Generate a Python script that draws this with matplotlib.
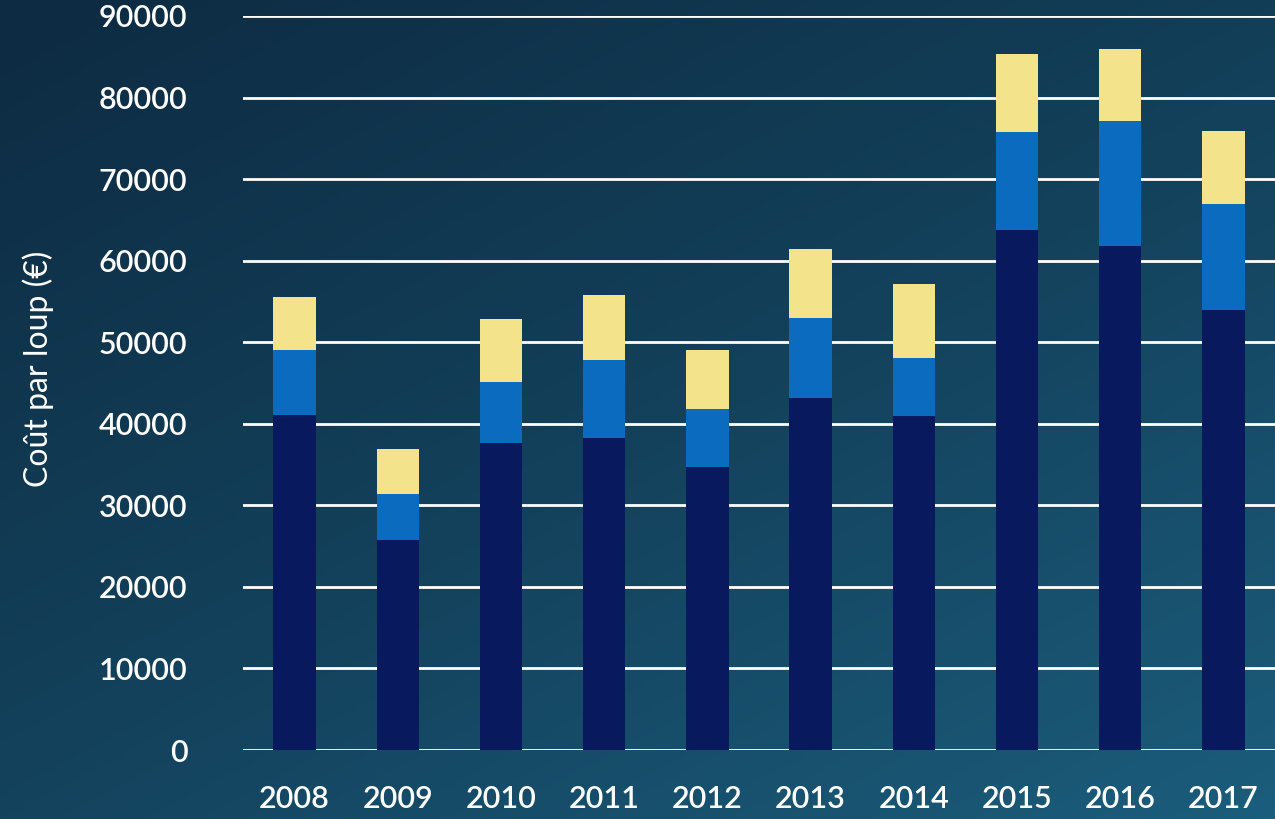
import numpy as np
import matplotlib
matplotlib.use("Agg")
import matplotlib.pyplot as plt
from matplotlib.colors import LinearSegmentedColormap

years = ["2008", "2009", "2010", "2011", "2012", "2013", "2014", "2015", "2016", "2017"]
part_navy = [41100, 25800, 37600, 38300, 34700, 43200, 41000, 63700, 61800, 53900]
part_blue = [7900, 5600, 7500, 9500, 7100, 9800, 7100, 12100, 15300, 13100]
part_yellow = [6500, 5500, 7800, 8000, 7200, 8400, 9100, 9600, 8900, 8900]
y_ticks = [0, 10000, 20000, 30000, 40000, 50000, 60000, 70000, 80000, 90000]
y_label = "Coût par loup (€)"

c_navy = "#08195e"
c_blue = "#0b6bbf"
c_yellow = "#f3e38a"

plt.rcParams['font.family'] = ['Lato', 'DejaVu Sans']

fig = plt.figure(figsize=(12.75, 8.19), dpi=100)

# background gradient (dark top-left -> lighter bottom-right)
bg = fig.add_axes([0, 0, 1, 1], zorder=-10)
xx, yy = np.meshgrid(np.linspace(0, 1, 300), np.linspace(0, 1, 200))
grad = 0.45 * xx + 0.55 * yy  # yy=1 at bottom with origin upper
cmap = LinearSegmentedColormap.from_list("bgc", ["#0d2b42", "#13405a", "#1b5d7c"])
bg.imshow(grad, cmap=cmap, aspect="auto", extent=[0, 1, 0, 1], origin="upper", vmin=0, vmax=1.0)
bg.axis("off")

ax = fig.add_axes([243 / 1275, (819 - 750) / 819, (1275 - 243) / 1275, (750 - 16) / 819])
ax.patch.set_alpha(0)

x = np.arange(len(years))
w = 0.41
navy = np.array(part_navy)
blue = np.array(part_blue)
yellow = np.array(part_yellow)
ax.bar(x, navy, w, color=c_navy, zorder=3)
ax.bar(x, blue, w, bottom=navy, color=c_blue, zorder=3)
ax.bar(x, yellow, w, bottom=navy + blue, color=c_yellow, zorder=3)

ax.set_xlim(-0.5, 9.5)
ax.set_ylim(0, 90000)
ax.set_yticks(y_ticks)
ax.set_yticklabels([str(v) for v in y_ticks], fontweight="semibold")
ax.set_xticks(x)
ax.set_xticklabels(years, fontweight="semibold")
ax.grid(axis="y", color="white", linewidth=2.0, zorder=0)
ax.set_axisbelow(True)
for s in ax.spines.values():
    s.set_visible(False)
ax.tick_params(axis="both", length=0, colors="white", labelsize=22)
ax.tick_params(axis="y", pad=40)
ax.tick_params(axis="x", pad=25)
ax.set_ylabel(y_label, color="white", fontsize=23)
ax.yaxis.set_label_coords(-0.183, 0.52)

fig.savefig("out.png", dpi=100)
